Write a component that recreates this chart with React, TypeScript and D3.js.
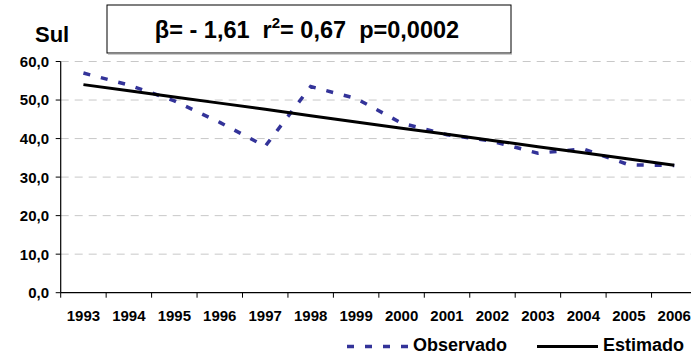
import React from "react";
import * as d3 from "d3";

// Sul region, 1993-2006
const years = ["1993", "1994", "1995", "1996", "1997", "1998", "1999", "2000", "2001", "2002", "2003", "2004", "2005", "2006"];
const observado = [57.0, 53.9, 49.8, 44.2, 38.0, 53.5, 50.4, 44.0, 41.0, 39.3, 36.2, 37.3, 33.2, 33.0];
const estimado = [54.0, 52.4, 50.8, 49.2, 47.6, 45.9, 44.3, 42.7, 41.1, 39.5, 37.9, 36.3, 34.7, 33.1];
const yTicks = [0, 10, 20, 30, 40, 50, 60];
const statsText = "β= - 1,61  r";
const statsText2 = "= 0,67  p=0,0002";

const W = 691;
const H = 355;
const FONT = "'Liberation Sans', Arial, Helvetica, sans-serif";

export default function App() {
  const left = 60.7;
  const bottom = 292.7;
  const top = 61.5;

  const x = d3.scaleBand<string>().domain(years).range([left, left + 14 * 45.45]).padding(0);
  const y = d3.scaleLinear().domain([0, 60]).range([bottom, top]);
  const cx = (d: string) => (x(d) as number) + x.bandwidth() / 2;

  const line = d3
    .line<number>()
    .x((_, i) => cx(years[i]))
    .y((d) => y(d));

  const fmt = (v: number) => v.toFixed(1).replace(".", ",");

  return (
    <svg
      width={W}
      height={H}
      style={{ position: "absolute", left: 0, top: 0, background: "#fff" }}
      fontFamily={FONT}
      fontWeight="bold"
    >
      {/* gridlines */}
      {yTicks.slice(1).map((t) => (
        <line key={"g" + t} x1={left} x2={W} y1={y(t)} y2={y(t)} stroke="#c8c8c8" strokeWidth={1} strokeDasharray="8,6" />
      ))}

      {/* y axis */}
      <line x1={left} x2={left} y1={top} y2={bottom} stroke="#000" strokeWidth={1.2} />
      {yTicks.map((t) => (
        <g key={"y" + t}>
          <line x1={left - 5} x2={left} y1={y(t)} y2={y(t)} stroke="#000" strokeWidth={1} />
          <text x={49} y={y(t)} dy="0.36em" textAnchor="end" fontSize={15} fill="#000">
            {fmt(t)}
          </text>
        </g>
      ))}

      {/* x axis */}
      <line x1={left} x2={W} y1={bottom} y2={bottom} stroke="#000" strokeWidth={1.2} />
      {years.map((yr) => (
        <g key={"x" + yr}>
          <line x1={x(yr)} x2={x(yr)} y1={bottom} y2={bottom + 5} stroke="#000" strokeWidth={1} />
          <text x={cx(yr)} y={321} textAnchor="middle" fontSize={15} fill="#000">
            {yr}
          </text>
        </g>
      ))}

      {/* series */}
      <path d={line(observado) || ""} fill="none" stroke="#333399" strokeWidth={3.5} strokeDasharray="7,11" />
      <path d={line(estimado) || ""} fill="none" stroke="#000" strokeWidth={3} />

      {/* title */}
      <text x={35} y={42} fontSize={22} fill="#000">Sul</text>

      {/* stats box */}
      <rect x={107} y={5} width={404} height={48} fill="#fff" stroke="#000" strokeWidth={1} />
      <line x1={108} x2={512} y1={54} y2={54} stroke="#999" strokeWidth={1} />
      <text x={307} y={38} textAnchor="middle" fontSize={23.5} fill="#000" style={{ whiteSpace: "pre" }}>
        {statsText}
        <tspan fontSize={15} dy={-10}>2</tspan>
        <tspan dy={10}>{statsText2}</tspan>
      </text>

      {/* legend */}
      <line x1={347} x2={409} y1={346.5} y2={346.5} stroke="#333399" strokeWidth={3.5} strokeDasharray="7,11" />
      <text x={413} y={351} fontSize={18} fill="#000">Observado</text>
      <line x1={537} x2={598} y1={346.5} y2={346.5} stroke="#000" strokeWidth={3} />
      <text x={603} y={351} fontSize={18} fill="#000">Estimado</text>
    </svg>
  );
}
